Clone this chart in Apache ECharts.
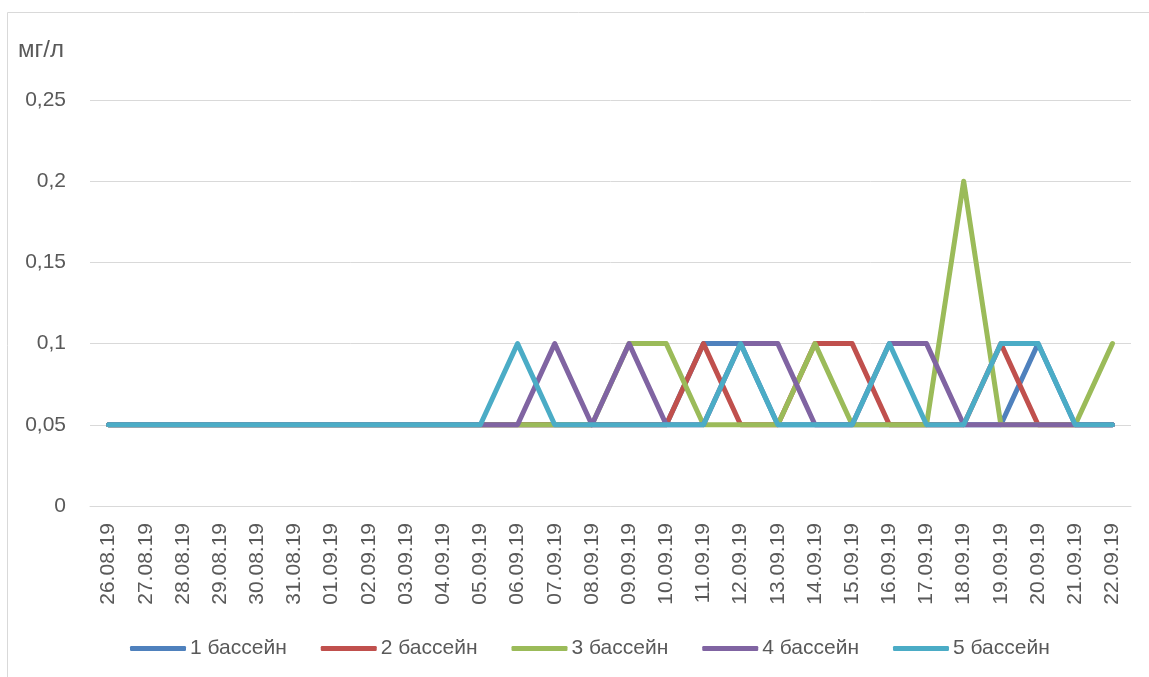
<!DOCTYPE html>
<html>
<head>
<meta charset="utf-8">
<script src="https://cdn.jsdelivr.net/npm/echarts@6/dist/echarts.min.js"></script>
<style>
  html, body { margin: 0; padding: 0; background: #fff; }
  #chart { width: 1149px; height: 677px; }
</style>
</head>
<body>
<div id="chart"></div>
<script>
const dates = [
  '26.08.19', '27.08.19', '28.08.19', '29.08.19', '30.08.19', '31.08.19', '01.09.19',
  '02.09.19', '03.09.19', '04.09.19', '05.09.19', '06.09.19', '07.09.19', '08.09.19',
  '09.09.19', '10.09.19', '11.09.19', '12.09.19', '13.09.19', '14.09.19', '15.09.19',
  '16.09.19', '17.09.19', '18.09.19', '19.09.19', '20.09.19', '21.09.19', '22.09.19'
];

const pool1 = [0.05, 0.05, 0.05, 0.05, 0.05, 0.05, 0.05, 0.05, 0.05, 0.05, 0.05, 0.05, 0.05, 0.05,
  0.05, 0.05, 0.1, 0.1, 0.05, 0.05, 0.05, 0.05, 0.05, 0.05, 0.05, 0.1, 0.05, 0.05];
const pool2 = [0.05, 0.05, 0.05, 0.05, 0.05, 0.05, 0.05, 0.05, 0.05, 0.05, 0.05, 0.05, 0.05, 0.05,
  0.05, 0.05, 0.1, 0.05, 0.05, 0.1, 0.1, 0.05, 0.05, 0.05, 0.1, 0.05, 0.05, 0.05];
const pool3 = [0.05, 0.05, 0.05, 0.05, 0.05, 0.05, 0.05, 0.05, 0.05, 0.05, 0.05, 0.05, 0.05, 0.05,
  0.1, 0.1, 0.05, 0.05, 0.05, 0.1, 0.05, 0.05, 0.05, 0.2, 0.05, 0.05, 0.05, 0.1];
const pool4 = [0.05, 0.05, 0.05, 0.05, 0.05, 0.05, 0.05, 0.05, 0.05, 0.05, 0.05, 0.05, 0.1, 0.05,
  0.1, 0.05, 0.05, 0.1, 0.1, 0.05, 0.05, 0.1, 0.1, 0.05, 0.05, 0.05, 0.05, 0.05];
const pool5 = [0.05, 0.05, 0.05, 0.05, 0.05, 0.05, 0.05, 0.05, 0.05, 0.05, 0.05, 0.1, 0.05, 0.05,
  0.05, 0.05, 0.05, 0.1, 0.05, 0.05, 0.05, 0.1, 0.05, 0.05, 0.1, 0.1, 0.05, 0.05];

const seriesNames = ['1 бассейн', '2 бассейн', '3 бассейн', '4 бассейн', '5 бассейн'];
const seriesData = [pool1, pool2, pool3, pool4, pool5];
const colors = ['#4F81BD', '#C0504D', '#9BBB59', '#8064A2', '#4BACC6'];

const font = '"Liberation Sans", Arial, sans-serif';
const textColor = '#595959';

const chart = echarts.init(document.getElementById('chart'));
chart.setOption({
  animation: false,
  graphic: [{
    type: 'rect',
    shape: { x: 7.5, y: 12.5, width: 1160, height: 700 },
    style: { fill: 'none', stroke: '#d9d9d9', lineWidth: 1 },
    silent: true
  }],
  grid: {
    left: 90,
    right: 18,
    top: 100,
    bottom: 171,
    containLabel: false
  },
  legend: {
    left: 125,
    top: 633,
    itemWidth: 56,
    itemHeight: 5,
    itemGap: 34,
    icon: 'roundRect',
    textStyle: { color: textColor, fontSize: 21, fontFamily: font, padding: [0, 0, 0, -1] },
    data: seriesNames
  },
  xAxis: {
    type: 'category',
    boundaryGap: true,
    data: dates,
    axisLine: { lineStyle: { color: '#d9d9d9', width: 1 } },
    axisTick: { show: false },
    axisLabel: {
      rotate: 90,
      interval: 0,
      margin: 17,
      color: textColor,
      fontSize: 21,
      fontFamily: font
    }
  },
  yAxis: {
    type: 'value',
    min: 0,
    max: 0.25,
    interval: 0.05,
    name: 'мг/л',
    nameLocation: 'end',
    nameGap: 38,
    nameTextStyle: { color: textColor, fontSize: 24, fontFamily: font, align: 'left', padding: [0, 0, 0, -72] },
    axisLine: { show: false },
    axisTick: { show: false },
    splitLine: { lineStyle: { color: '#d9d9d9', width: 1 } },
    axisLabel: {
      color: textColor,
      fontSize: 21,
      fontFamily: font,
      margin: 24,
      formatter: v => v === 0 ? '0' : String(+v.toFixed(2)).replace('.', ',')
    }
  },
  series: seriesNames.map((name, i) => ({
    name: name,
    type: 'line',
    data: seriesData[i],
    showSymbol: false,
    symbol: 'none',
    color: colors[i],
    lineStyle: { width: 5, color: colors[i], cap: 'round', join: 'round' }
  }))
});
</script>
</body>
</html>
